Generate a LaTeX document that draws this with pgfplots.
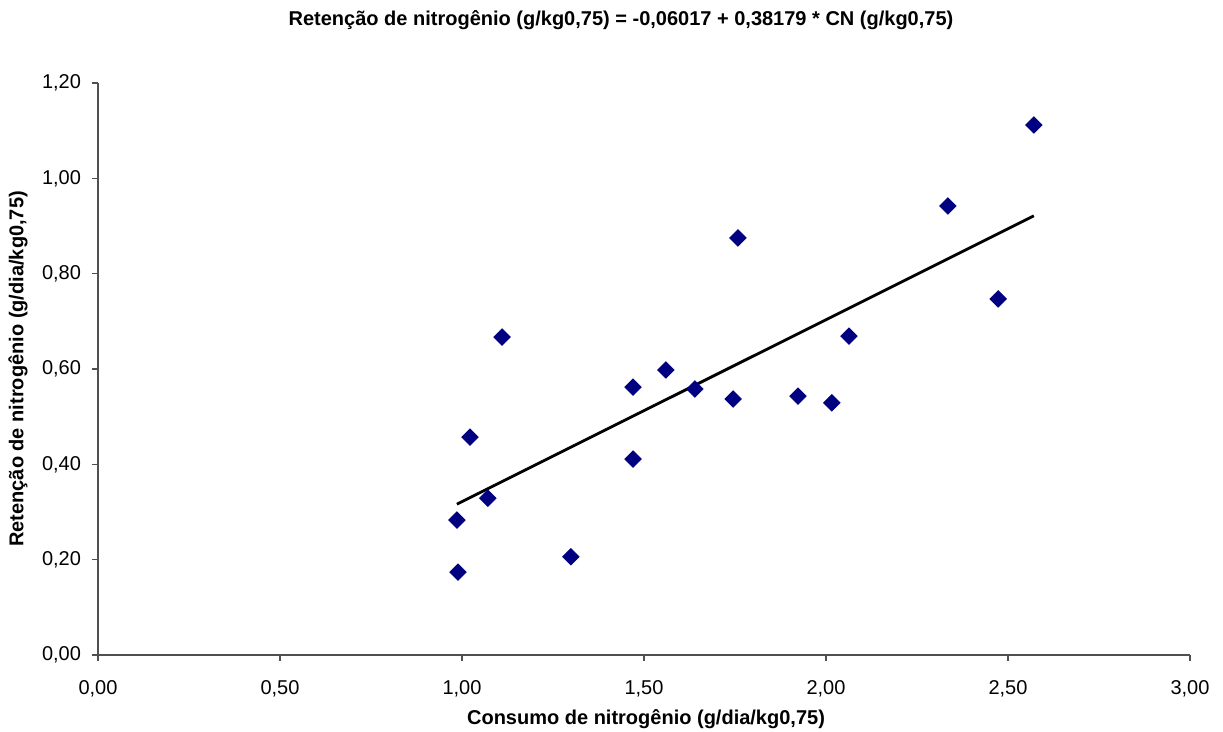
\documentclass[border=0pt]{standalone}
\usepackage{pgfplots}
\pgfplotsset{compat=1.18}
\usepackage{fontspec}
\setmainfont{Liberation Sans}
\definecolor{ptnavy}{RGB}{0,0,128}
\definecolor{axgray}{RGB}{80,80,80}

\begin{document}
\begin{tikzpicture}[font=\fontsize{10}{12}\selectfont]
\begin{axis}[
    at={(0pt,0pt)}, anchor=origin,
    scale only axis,
    width=546pt, height=286pt,
    xmin=0, xmax=3, ymin=0, ymax=1.2,
    xtick={0,0.5,...,3}, ytick={0,0.2,...,1.2},
    axis x line*=bottom, axis y line*=left,
    axis line style={axgray, line width=0.6pt},
    tick style={axgray, line width=0.6pt},
    tick align=outside, major tick length=3pt,
    xtick pos=bottom, ytick pos=left,
    /pgf/number format/.cd, fixed, fixed zerofill, precision=2, use comma, assume math mode=true,
    /pgfplots/.cd,
    xticklabel style={yshift=-6pt},
    yticklabel style={xshift=-2pt},
    clip=false,
]
\addplot[only marks, mark=square*, mark size=2.9pt, mark options={rotate=45}, color=ptnavy] coordinates {
(0.989,0.174) (0.986,0.283) (1.022,0.457) (1.071,0.329) (1.110,0.667)
(1.299,0.206) (1.470,0.562) (1.470,0.411) (1.560,0.598) (1.640,0.558)
(1.745,0.537) (1.758,0.875) (1.923,0.543) (2.016,0.529) (2.063,0.669)
(2.335,0.942) (2.473,0.747) (2.571,1.112)
};
\addplot[black, line width=1.4pt] coordinates {(0.986,0.3163) (2.571,0.9214)};
\end{axis}
\node[font=\fontsize{10}{12}\selectfont\bfseries] at (261.5pt,317.5pt) {Retenção de nitrogênio (g/kg0,75) = -0,06017 + 0,38179 * CN (g/kg0,75)};
\node[font=\fontsize{10}{12}\selectfont\bfseries] at (274pt,-32pt) {Consumo de nitrogênio (g/dia/kg0,75)};
\node[font=\fontsize{10}{12}\selectfont\bfseries, rotate=90] at (-40pt,143pt) {Retenção de nitrogênio (g/dia/kg0,75)};
\pgfresetboundingbox
\path[use as bounding box] (-49pt,-38.5pt) rectangle (562.5pt,327.5pt);
\end{tikzpicture}
\end{document}
